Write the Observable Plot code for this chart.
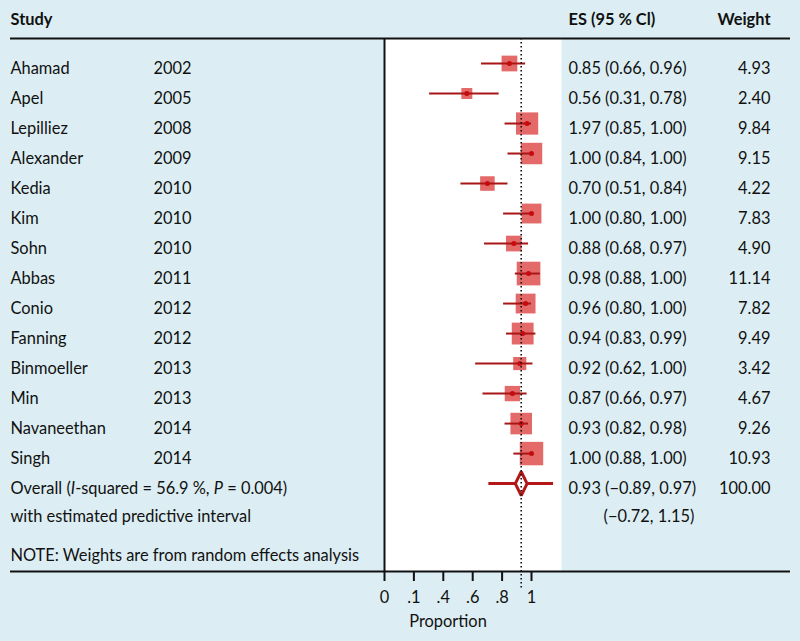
<!DOCTYPE html>
<html><head><meta charset="utf-8">
<script src="https://cdn.jsdelivr.net/npm/d3@7"></script>
<script src="https://cdn.jsdelivr.net/npm/@observablehq/plot@0.6"></script>
<style>
html,body{margin:0;padding:0;background:#dceef3;}
#chart{width:800px;height:641px;}
</style></head><body><div id="chart"></div>
<script>
// ---- data ----
const studies = ["Ahamad","Apel","Lepilliez","Alexander","Kedia","Kim","Sohn","Abbas","Conio","Fanning","Binmoeller","Min","Navaneethan","Singh"];
const years   = [2002,2005,2008,2009,2010,2010,2010,2011,2012,2012,2013,2013,2014,2014];
const es      = [0.85,0.56,0.97,1.00,0.70,1.00,0.88,0.98,0.96,0.94,0.92,0.87,0.93,1.00];
const lo      = [0.66,0.26,0.82,0.84,0.52,0.81,0.68,0.89,0.81,0.83,0.62,0.67,0.82,0.88];
const hi      = [0.96,0.78,1.00,1.00,0.84,1.00,0.98,1.06,1.00,1.03,1.01,0.97,0.98,1.00];
const weights = [4.93,2.40,9.84,9.15,4.22,7.83,4.90,11.14,7.82,9.49,3.42,4.67,9.26,10.93];
const esLabels = ["0.85 (0.66, 0.96)","0.56 (0.31, 0.78)","1.97 (0.85, 1.00)","1.00 (0.84, 1.00)","0.70 (0.51, 0.84)",
  "1.00 (0.80, 1.00)","0.88 (0.68, 0.97)","0.98 (0.88, 1.00)","0.96 (0.80, 1.00)","0.94 (0.83, 0.99)",
  "0.92 (0.62, 1.00)","0.87 (0.66, 0.97)","0.93 (0.82, 0.98)","1.00 (0.88, 1.00)"];
const overallES = 0.93, overallLo = 0.89, overallHi = 0.97;
const predLo = 0.71, predHi = 1.15;
const overallText = "0.93 (\u22120.89, 0.97)";
const predText = "(\u22120.72, 1.15)";
const overallWeight = "100.00";
const tickValues = [0, 0.1, 0.4, 0.6, 0.8, 1];
const tickLabels = ["0", ".1", ".4", ".6", ".8", "1"];
const overallParts = [["Overall (", false], ["I", true], ["-squared = 56.9 %, ", false], ["P", true], [" = 0.004)", false]];

// ---- layout rows ----
const TOP_ROW = 1/6, BOTTOM_ROW = 17.93;
const OVERALL_ROW = 15, PRED_ROW = 15.93, NOTE_ROW = 17.23;
const rows = studies.map((s, i) => ({study: s, year: String(years[i]), es: es[i], lo: lo[i], hi: hi[i],
  weight: weights[i], esLabel: esLabels[i], row: i + 1}));
const overallLabel = overallParts.map(p => p[0]).join("");
const dHalf = 0.4;
const diamond = [[overallLo, OVERALL_ROW], [overallES, OVERALL_ROW - dHalf], [overallHi, OVERALL_ROW],
  [overallES, OVERALL_ROW + dHalf], [overallLo, OVERALL_ROW]];

const ink = "#111";
const boxCol = "#e36a69", lineCol = "#a81616", dotCol = "#c70a0e", diaCol = "#b31717";
const L = -374, YR = -231, ESX = 7, WX = 209, PX = 42, TDY = 5;

const plot = Plot.plot({
  width: 800, height: 641,
  marginLeft: 384, marginRight: 239, marginTop: 38, marginBottom: 70,
  style: {fontFamily: "Lato, 'Open Sans', sans-serif", fontSize: "16.4px", background: "transparent", color: ink, overflow: "visible"},
  x: {type: "linear", domain: tickValues, insetRight: 30, axis: null},
  y: {type: "linear", domain: [BOTTOM_ROW, TOP_ROW], axis: null},
  r: {type: "sqrt", domain: [0, 100], range: [0, 40]},
  marks: [
    Plot.frame({fill: "white", stroke: "none"}),
    Plot.ruleY([0], {y: () => OVERALL_ROW, x1: () => predLo, x2: () => predHi, stroke: diaCol, strokeWidth: 3}),
    Plot.dot(rows, {x: "es", y: "row", r: "weight", symbol: "square", fill: boxCol, stroke: "none"}),
    Plot.ruleY(rows, {y: "row", x1: "lo", x2: "hi", stroke: lineCol, strokeWidth: 2}),
    Plot.dot(rows, {x: "es", y: "row", r: 2.5, fill: dotCol, stroke: "none"}),
    Plot.line(diamond, {x: d => d[0], y: d => d[1], fill: "white", stroke: diaCol, strokeWidth: 3, strokeLinejoin: "miter"}),
    Plot.ruleX([overallES], {stroke: ink, strokeWidth: 1.6, strokeDasharray: "1.6,2.4", insetBottom: -17}),
    Plot.ruleX([0], {stroke: ink, strokeWidth: 2}),
    Plot.ruleY([TOP_ROW], {stroke: ink, strokeWidth: 2, insetLeft: L, insetRight: -229}),
    Plot.ruleY([BOTTOM_ROW], {stroke: ink, strokeWidth: 2, insetLeft: L, insetRight: -229}),
    Plot.axisX({ticks: tickValues, tickFormat: d => tickLabels[tickValues.indexOf(d)], tickSize: 10, tickPadding: 10,
      strokeWidth: 2, fontSize: 16.4, label: null}),
    // header
    Plot.text(["Study"], {text: d => d, frameAnchor: "top-left", dx: L, dy: -25, textAnchor: "start", fontWeight: "bold"}),
    Plot.text(["ES (95 % Cl)"], {text: d => d, frameAnchor: "top-right", dx: ESX, dy: -25, textAnchor: "start", fontWeight: "bold"}),
    Plot.text(["Weight"], {text: d => d, frameAnchor: "top-right", dx: WX, dy: -25, textAnchor: "end", fontWeight: "bold"}),
    // study rows
    Plot.text(rows, {y: "row", text: "study", frameAnchor: "left", dx: L, dy: TDY, textAnchor: "start"}),
    Plot.text(rows, {y: "row", text: "year", frameAnchor: "left", dx: YR, dy: TDY, textAnchor: "start"}),
    Plot.text(rows, {y: "row", text: "esLabel", frameAnchor: "right", dx: ESX, dy: TDY, textAnchor: "start"}),
    Plot.text(rows, {y: "row", text: d => d.weight.toFixed(2), frameAnchor: "right", dx: WX, dy: TDY, textAnchor: "end"}),
    // overall
    Plot.text([overallLabel], {text: d => d, y: () => OVERALL_ROW, frameAnchor: "left", dx: L, dy: TDY, textAnchor: "start"}),
    Plot.text(["with estimated predictive interval"], {text: d => d, y: () => PRED_ROW, frameAnchor: "left", dx: L, dy: TDY, textAnchor: "start"}),
    Plot.text(["NOTE: Weights are from random effects analysis"], {text: d => d, y: () => NOTE_ROW, frameAnchor: "left", dx: L, dy: TDY, textAnchor: "start"}),
    Plot.text([overallText], {text: d => d, y: () => OVERALL_ROW, frameAnchor: "right", dx: ESX, dy: TDY, textAnchor: "start"}),
    Plot.text([predText], {text: d => d, y: () => PRED_ROW, frameAnchor: "right", dx: PX, dy: TDY, textAnchor: "start"}),
    Plot.text([overallWeight], {text: d => d, y: () => OVERALL_ROW, frameAnchor: "right", dx: WX, dy: TDY, textAnchor: "end"}),
    Plot.text(["Proportion"], {text: d => d, frameAnchor: "bottom", dx: -25, dy: 55})
  ]
});

plot.querySelectorAll("text").forEach(t => {
  if (t.textContent === overallLabel) {
    t.textContent = "";
    overallParts.forEach(([s, it]) => {
      const ts = document.createElementNS("http://www.w3.org/2000/svg", "tspan");
      ts.textContent = s;
      if (it) ts.setAttribute("font-style", "italic");
      t.appendChild(ts);
    });
  }
});
document.getElementById("chart").appendChild(plot);
</script></body></html>
